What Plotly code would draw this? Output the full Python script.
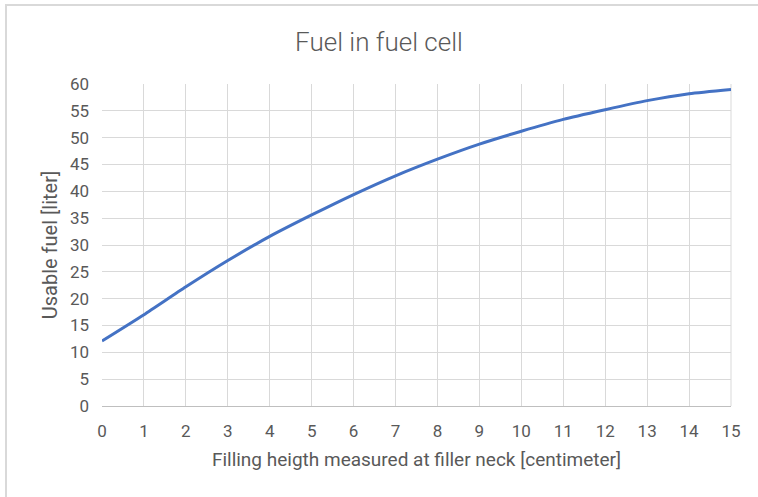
import plotly.graph_objects as go

filling_height_cm = [0, 1, 2, 3, 4, 5, 6, 7, 8, 9, 10, 11, 12, 13, 14, 15]
usable_fuel_liter = [12.1, 17.0, 22.2, 27.1, 31.6, 35.6, 39.4, 42.9, 46.0, 48.8, 51.2, 53.4, 55.2, 56.9, 58.2, 59.0]

title_text = "Fuel in fuel cell"
x_title = "Filling heigth measured at filler neck [centimeter]"
y_title = "Usable fuel [liter]"

W, H = 758, 497
ML, MR, MT, MB = 102, 27, 84, 91
pw, ph = W - ML - MR, H - MT - MB

font_fam = "Roboto, Arial, sans-serif"
txt = "#595959"
grid = "#d9d9d9"

fig = go.Figure()
fig.add_trace(go.Scatter(
    x=filling_height_cm, y=usable_fuel_liter, mode="lines",
    line=dict(color="#4472c4", width=3, shape="spline", smoothing=0.6),
    hoverinfo="x+y", showlegend=False,
))

def px2paper_x(px):
    return (px - ML) / pw

def px2paper_y(py):
    return (H - MB - py) / ph

fig.update_layout(
    width=W, height=H,
    margin=dict(l=ML, r=MR, t=MT, b=MB),
    paper_bgcolor="white", plot_bgcolor="white",
    title=dict(text=title_text, x=0.5, xanchor="center", y=1 - 42 / H, yanchor="middle",
               font=dict(family=font_fam, size=26, color=txt, weight=300)),
    xaxis=dict(
        range=[0, 15], tickmode="linear", tick0=0, dtick=1,
        showgrid=True, gridcolor=grid, gridwidth=1,
        showline=True, linecolor="#bfbfbf", linewidth=1, mirror=False,
        zeroline=False, ticks="", ticklabelstandoff=10,
        tickfont=dict(family=font_fam, size=17, color=txt),
        title=dict(text=x_title, font=dict(family=font_fam, size=19, color=txt), standoff=12),
    ),
    yaxis=dict(
        range=[0, 60], tickmode="linear", tick0=0, dtick=5,
        showgrid=True, gridcolor=grid, gridwidth=1,
        showline=False, zeroline=False, ticks="", ticklabelstandoff=12,
        tickfont=dict(family=font_fam, size=17, color=txt),
        title=dict(text=y_title, font=dict(family=font_fam, size=20, color=txt), standoff=6),
    ),
    shapes=[
        dict(type="line", xref="paper", yref="paper",
             x0=1, x1=1, y0=0, y1=1, line=dict(color=grid, width=1), layer="below"),
        dict(type="rect", xref="paper", yref="paper",
             x0=px2paper_x(6), x1=px2paper_x(W + 10),
             y0=px2paper_y(H + 10), y1=px2paper_y(5),
             line=dict(color="#d9d9d9", width=2), fillcolor="rgba(0,0,0,0)"),
    ],
)

fig.write_html("out.html", config={"displayModeBar": False},
               post_script="document.body.style.margin='0';document.body.style.overflow='hidden';")
